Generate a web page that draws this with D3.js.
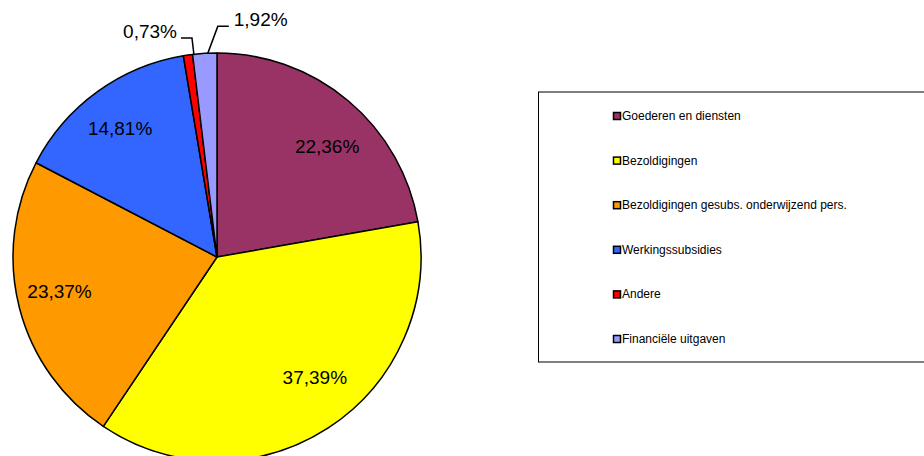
<!DOCTYPE html>
<html>
<head>
<meta charset="utf-8">
<script src="https://cdn.jsdelivr.net/npm/d3@7"></script>
<style>
  body { margin: 0; background: #fff; }
  svg { display: block; font-family: "Liberation Sans", Arial, sans-serif; }
</style>
</head>
<body>
<div class="svg-container"></div>
<script>
// chart data
let categories = ['Goederen en diensten', 'Bezoldigingen', 'Bezoldigingen gesubs. onderwijzend pers.', 'Werkingssubsidies', 'Andere', 'Financiële uitgaven']
let values = [22.36, 37.39, 23.37, 14.81, 0.73, 1.92]
let labels = ['22,36%', '37,39%', '23,37%', '14,81%', '0,73%', '1,92%']
let colors = ['#993366', '#FFFF00', '#FF9900', '#3366FF', '#FF0000', '#9999FF']

function drawPie () {
  let width = 924
  let height = 456
  let cx = 217
  let cy = 257
  let radius = 204

  let svg = d3.select('.svg-container')
    .append('svg')
    .attr('width', width)
    .attr('height', height)

  let slices = d3.pie()
    .sort(null)
    .value(d => d)(values)

  let arc = d3.arc()
    .innerRadius(0)
    .outerRadius(radius)

  let pieGroup = svg.append('g')
    .attr('transform', `translate(${cx}, ${cy})`)

  pieGroup.selectAll('path')
    .data(slices)
    .enter()
    .append('path')
    .attr('d', arc)
    .attr('fill', (d, i) => colors[i])
    .attr('stroke', '#000')
    .attr('stroke-width', 1.5)
    .attr('stroke-linejoin', 'round')

  // labels inside the big slices: radius factor and a small angle nudge
  let labelFactor = [0.765, 0.76, 0.79, 0.79]
  let labelNudge = [0.085, -0.106, 0.035, -0.017]
  let labelPos = (d, i) => {
    let a = (d.startAngle + d.endAngle) / 2 + labelNudge[i]
    return [Math.sin(a) * radius * labelFactor[i], -Math.cos(a) * radius * labelFactor[i]]
  }
  let inside = slices.slice(0, 4)
  pieGroup.selectAll('text.inside')
    .data(inside)
    .enter()
    .append('text')
    .attr('class', 'inside')
    .attr('x', (d, i) => labelPos(d, i)[0])
    .attr('y', (d, i) => labelPos(d, i)[1])
    .attr('text-anchor', 'middle')
    .attr('dominant-baseline', 'central')
    .attr('font-size', 19)
    .text((d, i) => labels[i])

  // small slices get a leader line and an outside label
  let outside = slices.slice(4)
  let leaders = [
    { elbow: [-2, -17], end: [-13, -17], anchor: 'end', pad: -4 },
    { elbow: [10, -27], end: [21, -27], anchor: 'start', pad: 5 }
  ]
  outside.forEach((d, i) => {
    let a = (d.startAngle + d.endAngle) / 2
    let x0 = Math.sin(a) * radius + (i === 0 ? 6 : 3)
    let y0 = -Math.cos(a) * radius
    let l = leaders[i]
    let pts = [[x0, y0], [x0 + l.elbow[0], y0 + l.elbow[1]], [x0 + l.end[0], y0 + l.end[1]]]
    pieGroup.append('path')
      .attr('d', d3.line()(pts))
      .attr('fill', 'none')
      .attr('stroke', '#000')
      .attr('stroke-width', 1.5)
    pieGroup.append('text')
      .attr('x', pts[2][0] + l.pad)
      .attr('y', pts[2][1])
      .attr('text-anchor', l.anchor)
      .attr('font-size', 19)
      .text(labels[i + 4])
  })

  // legend
  let legend = svg.append('g')
    .attr('transform', 'translate(538, 92)')

  legend.append('rect')
    .attr('x', 0.5)
    .attr('y', 0)
    .attr('width', 420)
    .attr('height', 270)
    .attr('fill', '#fff')
    .attr('stroke', '#000')
    .attr('stroke-width', 1)

  let rowY = d3.scalePoint()
    .domain(categories)
    .range([24, 247])

  let rows = legend.selectAll('g.row')
    .data(categories)
    .enter()
    .append('g')
    .attr('class', 'row')
    .attr('transform', d => `translate(75, ${rowY(d)})`)

  rows.append('rect')
    .attr('x', 0.5)
    .attr('y', -3.5)
    .attr('width', 7)
    .attr('height', 7)
    .attr('fill', (d, i) => colors[i])
    .attr('stroke', '#000')
    .attr('stroke-width', 1.5)

  rows.append('text')
    .attr('x', 9)
    .attr('y', 0)
    .attr('dominant-baseline', 'central')
    .attr('font-size', 12)
    .attr('fill', '#000')
    .text(d => d)
}

drawPie()
</script>
</body>
</html>
